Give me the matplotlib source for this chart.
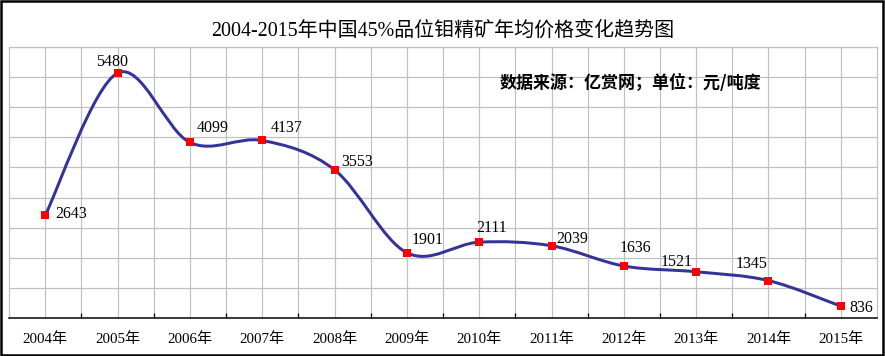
import numpy as np
import matplotlib
matplotlib.use("Agg")
import matplotlib.pyplot as plt
from matplotlib.path import Path
from matplotlib.patches import PathPatch, Rectangle

plt.rcParams['font.family'] = ['Liberation Serif', 'Noto Sans CJK SC', 'DejaVu Sans']

# dati
anni = ['2004年', '2005年', '2006年', '2007年', '2008年', '2009年',
        '2010年', '2011年', '2012年', '2013年', '2014年', '2015年']
prezzi = [2643, 5480, 4099, 4137, 3553, 1901, 2111, 2039, 1636, 1521, 1345, 836]
titolo = '2004-2015年中国45%品位钼精矿年均价格变化趋势图'
fonte = '数据来源：亿赏网；单位：元/吨度'

# posizione delle etichette (ha, dx, dy in pixel)
etichette_pos = [('left', 10, 1), ('center', -5, 11), ('left', 7, 14), ('left', 9, 12),
                 ('left', 7, 8), ('left', 5, 13), ('center', 12, 14), ('left', 5, 7),
                 ('center', 12, 18), ('right', -4, 10), ('right', -1, 17), ('left', 9, -2)]

fig = plt.figure(figsize=(885 / 72, 356 / 72), dpi=72)
ax = fig.add_axes([9 / 885, 1 - 318 / 356, 868 / 885, 271 / 356])

x = np.arange(len(prezzi))
y = np.array(prezzi, dtype=float)

# linea smussata (bezier tipo excel)
verts = [(x[0], y[0])]
codes = [Path.MOVETO]
n = len(x)
for k in range(n - 1):
    p0 = np.array([x[max(k - 1, 0)], y[max(k - 1, 0)]])
    p1 = np.array([x[k], y[k]])
    p2 = np.array([x[k + 1], y[k + 1]])
    p3 = np.array([x[min(k + 2, n - 1)], y[min(k + 2, n - 1)]])
    c1 = p1 + (p2 - p0) / 6.0
    c2 = p2 - (p3 - p1) / 6.0
    verts += [tuple(c1), tuple(c2), tuple(p2)]
    codes += [Path.CURVE4, Path.CURVE4, Path.CURVE4]
ax.add_patch(PathPatch(Path(verts, codes), facecolor='none', edgecolor='#333399',
                       linewidth=3, capstyle='round', joinstyle='round', zorder=3))

ax.plot(x, y, linestyle='none', marker='s', markersize=8, color='#ff0000',
        markeredgewidth=0, zorder=4)

for i, v in enumerate(prezzi):
    ha, dx, dy = etichette_pos[i]
    ax.annotate(str(v), (x[i], y[i]), xytext=(dx, dy), textcoords='offset points',
                ha=ha, va='center', fontsize=16, color='black', zorder=5)

ax.set_xlim(-0.5, len(prezzi) - 0.5)
ax.set_ylim(600, 6000)
ax.set_yticks(np.arange(600, 6001, 600))
ax.set_yticklabels([])
ax.tick_params(axis='y', length=0)

ax.set_xticks(np.arange(0.5, len(prezzi) - 1, 1))
ax.set_xticklabels([])
ax.set_xticks(x, minor=True)
ax.set_xticklabels(anni, minor=True, fontsize=15)
ax.tick_params(axis='x', which='major', direction='in', length=5, width=1.2, color='black')
ax.tick_params(axis='x', which='minor', length=0, pad=14)

ax.grid(True, which='both', color='#c0c0c0', linewidth=1.2)
ax.set_axisbelow(True)

for s in ['left', 'right', 'top']:
    ax.spines[s].set_color('#c0c0c0')
    ax.spines[s].set_linewidth(1.2)
ax.spines['bottom'].set_color('black')
ax.spines['bottom'].set_linewidth(1.5)

fig.text(443 / 885, 1 - 31 / 356, titolo, ha='center', va='center', fontsize=20)
fig.text(500 / 885, 1 - 83 / 356, fonte, ha='left', va='center', fontsize=17,
         fontweight='bold', family=['Noto Sans CJK SC', 'DejaVu Sans'])

fig.patches.append(Rectangle((0.0015, 0.003), 0.996, 0.993, transform=fig.transFigure,
                             fill=False, edgecolor='black', linewidth=2.5))

fig.savefig('out.png', dpi=72)
